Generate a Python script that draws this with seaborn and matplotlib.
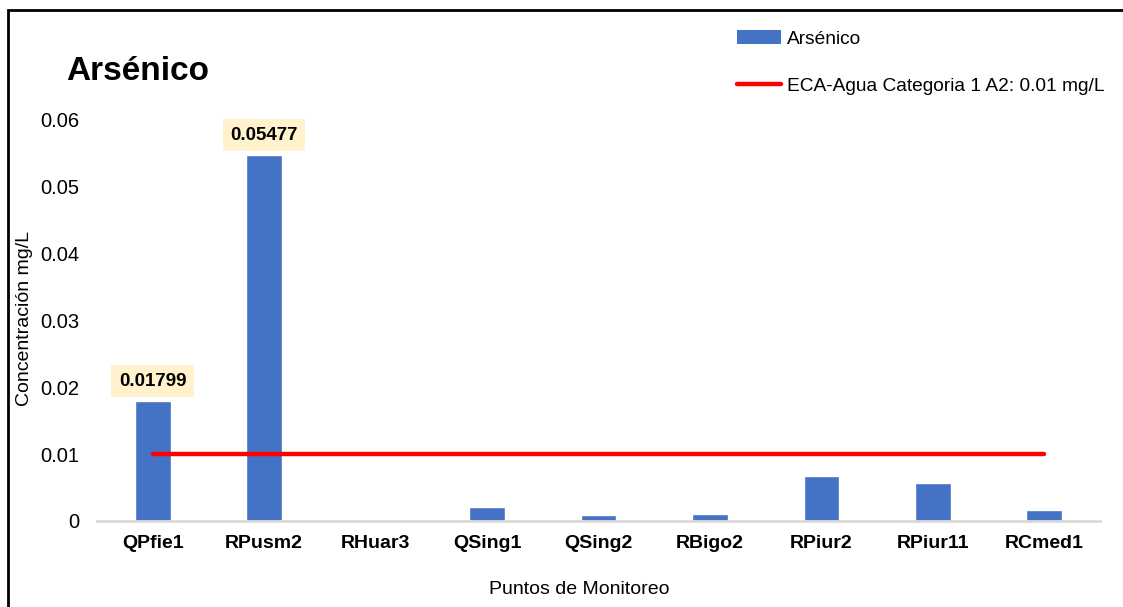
import numpy as np
import pandas as pd
import matplotlib
matplotlib.use("Agg")
import matplotlib.pyplot as plt
import seaborn as sns
from matplotlib.patches import Rectangle
from matplotlib.lines import Line2D
from matplotlib.patches import Patch

categories = ["QPfie1", "RPusm2", "RHuar3", "QSing1", "QSing2", "RBigo2", "RPiur2", "RPiur11", "RCmed1"]
arsenico = [0.01799, 0.05477, 0.0, 0.0021, 0.0009, 0.00105, 0.0068, 0.0057, 0.00165]
eca_limit = [0.01] * len(categories)
labeled = ["QPfie1", "RPusm2"]
y_ticks = [0, 0.01, 0.02, 0.03, 0.04, 0.05, 0.06]
y_tick_labels = ["0", "0.01", "0.02", "0.03", "0.04", "0.05", "0.06"]

sns.set_theme(style="white")
plt.rcParams['font.family'] = ['Liberation Sans', 'DejaVu Sans']
plt.rcParams['text.color'] = 'black'
plt.rcParams['xtick.color'] = 'black'
plt.rcParams['ytick.color'] = 'black'

fig = plt.figure(figsize=(11.23, 6.07), dpi=100)
ax = fig.add_axes([97/1123, 1-521/607, (1100-97)/1123, (521-120)/607])

df = pd.DataFrame({"Punto": categories, "Valor": arsenico})
sns.barplot(data=df, x="Punto", y="Valor", color="#4472C4", width=0.32, saturation=1, ax=ax)
ax.plot(np.arange(len(categories)), eca_limit, color="#FF0000", lw=3.2, solid_capstyle="round")

for i, (c, v) in enumerate(zip(categories, arsenico)):
    if c in labeled:
        ax.annotate(f"{v:.5f}", xy=(i, v), xytext=(0, 8), textcoords="offset points",
                    ha="center", va="bottom", fontsize=13.5, fontweight="bold", color="black",
                    bbox=dict(boxstyle="square,pad=0.4", fc="#FFF2CC", ec="none"))

ax.set_xlim(-0.5, len(categories) - 0.5)
ax.set_ylim(0, 0.06)
ax.set_yticks(y_ticks)
ax.set_yticklabels(y_tick_labels, fontsize=14.5)
ax.tick_params(axis="y", length=0, pad=13)
ax.tick_params(axis="x", length=0, pad=10)
for lab in ax.get_xticklabels():
    lab.set_fontweight("bold")
    lab.set_fontsize(14)
for s in ["top", "right", "left"]:
    ax.spines[s].set_visible(False)
ax.spines["bottom"].set_color("#D9D9D9")
ax.spines["bottom"].set_linewidth(2)

ax.set_xlabel("")
ax.set_ylabel("")
fig.text(579/1123, 1-590/607, "Puntos de Monitoreo", ha="center", va="center", fontsize=14)
fig.text(25/1123, 1-318/607, "Concentración mg/L", ha="center", va="center", fontsize=14, rotation=90)
fig.text(66/1123, 1-71/607, "Arsénico", ha="left", va="center", fontsize=24, fontweight="bold")

handles = [Patch(facecolor="#4472C4", edgecolor="none", label="Arsénico"),
           Line2D([0], [0], color="#FF0000", lw=3.2, label="ECA-Agua Categoria 1 A2: 0.01 mg/L")]
fig.legend(handles=handles, loc="upper left", bbox_to_anchor=(720/1123, 1-13/607), frameon=False,
           fontsize=13.8, handlelength=2.3, labelspacing=1.55, handletextpad=0.3)

fig.patches.append(Rectangle((8/1123, -0.1), 2, 1 - 10/607 + 0.1, transform=fig.transFigure,
                             fill=False, ec="black", lw=2, clip_on=False))

fig.savefig("out.png", dpi=100)
